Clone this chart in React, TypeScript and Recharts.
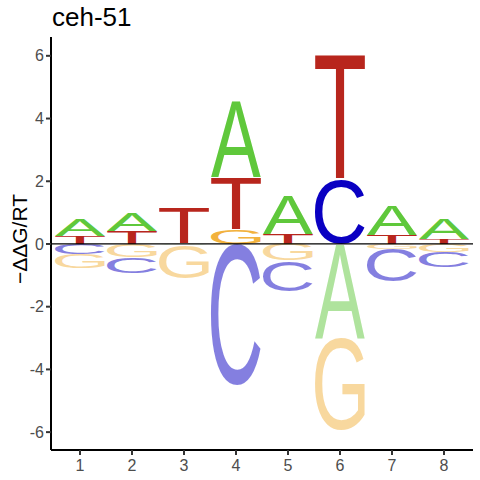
import { BarChart, Bar, XAxis, YAxis, ReferenceLine } from 'recharts';

// positions along the motif
const positions = ['1', '2', '3', '4', '5', '6', '7', '8'];

// letters above zero, listed from the baseline upwards
const upLetters = [['T', 'A'], ['T', 'A'], ['T'], ['G', 'T', 'A'], ['T', 'A'], ['C', 'T'], ['T', 'A'], ['T', 'A']];
const upHeights = [[0.26, 0.51], [0.40, 0.58], [1.10], [0.46, 1.67, 2.42], [0.32, 1.22], [2.05, 3.96], [0.30, 0.93], [0.17, 0.63]];

// letters below zero, listed from the baseline downwards
const downLetters = [['C', 'G'], ['G', 'C'], ['A', 'G'], ['C'], ['G', 'C'], ['A', 'G'], ['G', 'C'], ['G', 'C']];
const downHeights = [[0.32, 0.45], [0.43, 0.50], [0.04, 1.05], [4.51], [0.53, 0.98], [3.00, 2.95], [0.16, 1.05], [0.26, 0.49]];

const yTicks = [-6, -4, -2, 0, 2, 4, 6];

const letterColors: Record<string, string> = {
  A: '#5FC83B',
  C: '#0A00C2',
  G: '#F2B23D',
  T: '#B8261D',
};

const FONT = '"Liberation Sans", Arial, sans-serif';
const upKeys = ['u0', 'u1', 'u2'];
const downKeys = ['d0', 'd1'];

const data = positions.map((pos, i) => {
  const row: Record<string, string | number> = { pos };
  upKeys.forEach((k, j) => {
    row[k] = upHeights[i][j] ?? 0;
    row[k + 'L'] = upLetters[i][j] ?? '';
  });
  downKeys.forEach((k, j) => {
    row[k] = -(downHeights[i][j] ?? 0);
    row[k + 'L'] = downLetters[i][j] ?? '';
  });
  return row;
});

// ink bounds of each glyph at 100px, so a letter can be stretched to fill its box
const metricCache: Record<string, { l: number; r: number; a: number; d: number }> = {};
function glyphMetrics(letter: string) {
  if (metricCache[letter]) return metricCache[letter];
  let m = { l: 0, r: 66, a: 71.6, d: 0 };
  try {
    const ctx = document.createElement('canvas').getContext('2d');
    if (ctx) {
      ctx.font = `100px ${FONT}`;
      const t = ctx.measureText(letter);
      if (t.actualBoundingBoxAscent > 0) {
        m = {
          l: t.actualBoundingBoxLeft,
          r: t.actualBoundingBoxRight,
          a: t.actualBoundingBoxAscent,
          d: t.actualBoundingBoxDescent,
        };
      }
    }
  } catch (e) {
    // keep fallback
  }
  metricCache[letter] = m;
  return m;
}

function Glyph(props: any) {
  const { x, y, width, height, letter, faded } = props;
  const h = Math.abs(height);
  const w = Math.abs(width);
  if (!letter || !h || !w) return null;
  const top = Math.min(y, y + height);
  const left = Math.min(x, x + width);
  const m = glyphMetrics(letter);
  const sx = w / (m.l + m.r);
  const sy = h / (m.a + m.d);
  return (
    <text
      transform={`translate(${left},${top}) scale(${sx},${sy}) translate(${m.l},${m.a})`}
      fontSize={100}
      fontFamily={FONT}
      fill={letterColors[letter]}
      fillOpacity={faded ? 0.5 : 1}
    >
      {letter}
    </text>
  );
}

export default function App() {
  return (
    <div style={{ position: 'absolute', left: 0, top: 0, width: 480, height: 480, background: '#fff' }}>
      <BarChart
        width={480}
        height={480}
        data={data}
        stackOffset="sign"
        barCategoryGap={1}
        margin={{ top: 37, right: 7, bottom: 0, left: 0 }}
      >
        <XAxis
          dataKey="pos"
          height={30}
          padding={{ left: 3, right: 3 }}
          axisLine={{ stroke: '#000', strokeWidth: 2 }}
          tickLine={{ stroke: '#333', strokeWidth: 2 }}
          tickSize={5}
          tickMargin={5}
          tick={{ fill: '#4D4D4D', fontSize: 16, fontFamily: FONT }}
        />
        <YAxis
          type="number"
          width={51}
          domain={[-6.57, 6.6]}
          ticks={yTicks}
          allowDataOverflow
          axisLine={{ stroke: '#000', strokeWidth: 2 }}
          tickLine={{ stroke: '#333', strokeWidth: 2 }}
          tickSize={5}
          tickMargin={2}
          tick={{ fill: '#4D4D4D', fontSize: 16, fontFamily: FONT }}
        />
        {upKeys.map((k) => (
          <Bar
            key={k}
            dataKey={k}
            stackId="logo"
            isAnimationActive={false}
            shape={(p: any) => <Glyph {...p} letter={p.payload[k + 'L']} />}
          />
        ))}
        {downKeys.map((k) => (
          <Bar
            key={k}
            dataKey={k}
            stackId="logo"
            isAnimationActive={false}
            shape={(p: any) => <Glyph {...p} letter={p.payload[k + 'L']} faded />}
          />
        ))}
        <ReferenceLine y={0} stroke="#000" strokeWidth={1.3} ifOverflow="extendDomain" />
      </BarChart>
      <svg width={480} height={480} style={{ position: 'absolute', left: 0, top: 0, pointerEvents: 'none' }}>
        <text x={52} y={26} fontSize={26} fontFamily={FONT} fill="#000">
          ceh-51
        </text>
        <text
          transform="translate(27,239) rotate(-90)"
          textAnchor="middle"
          fontSize={21}
          fontFamily={FONT}
          fill="#000"
        >
          −ΔΔG/RT
        </text>
      </svg>
    </div>
  );
}
